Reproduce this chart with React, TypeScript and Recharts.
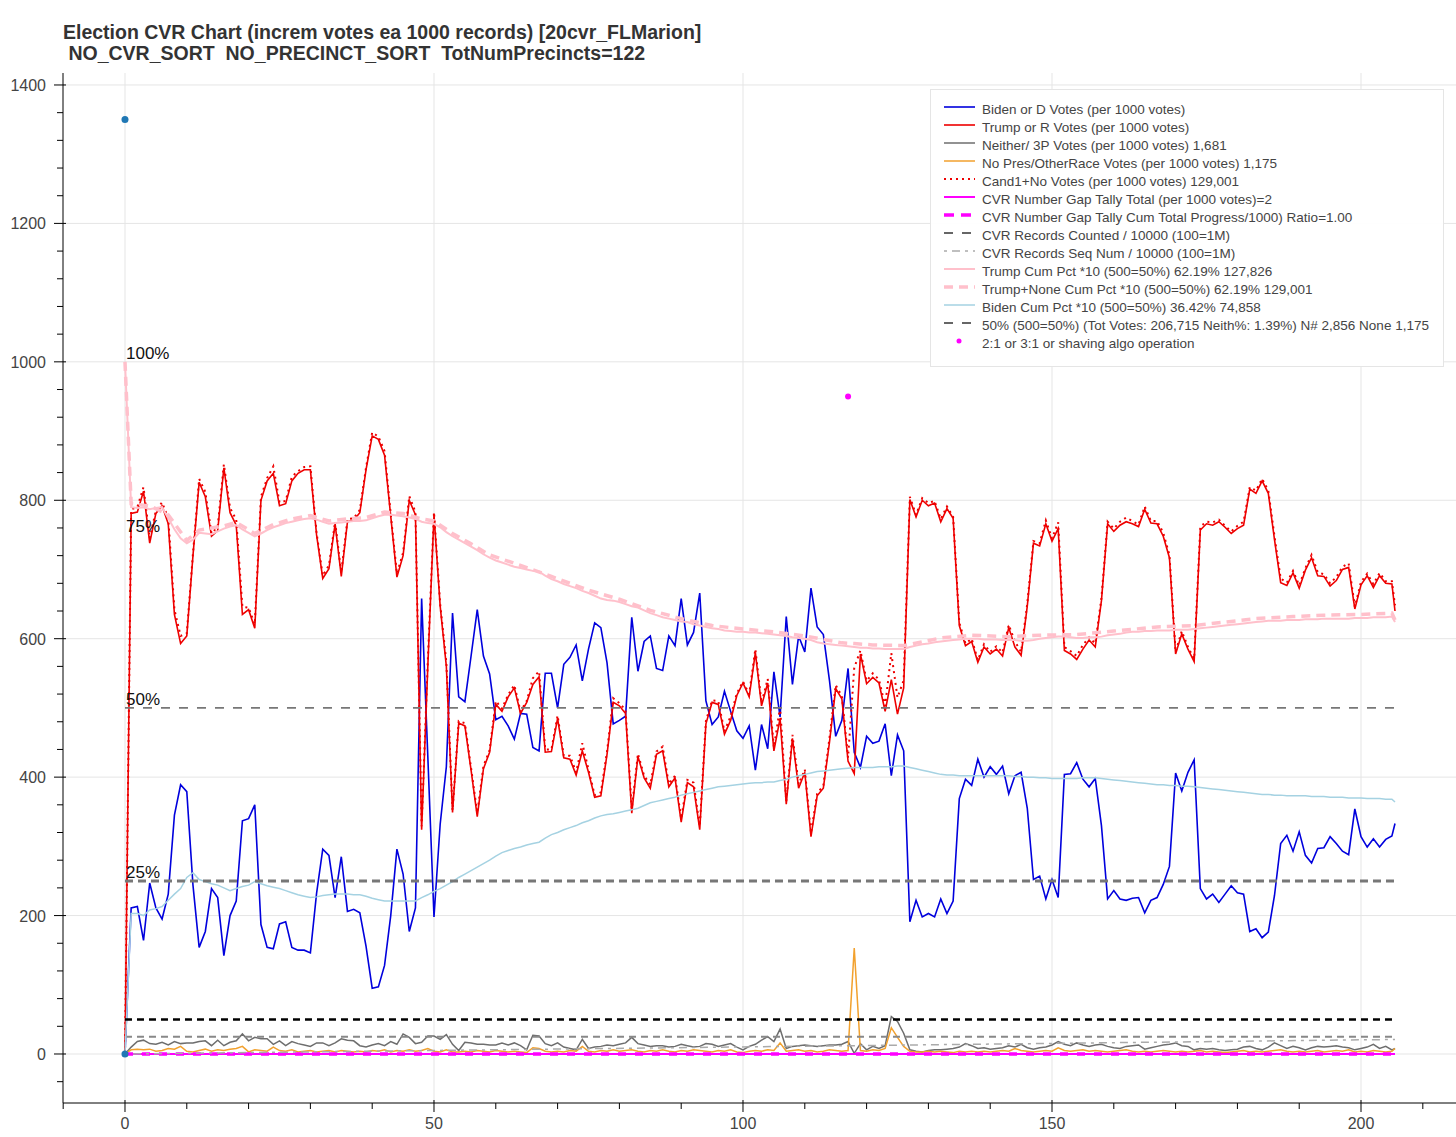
import { ComposedChart, Line, Scatter, XAxis, YAxis, CartesianGrid } from 'recharts';

// per-block values (one block = 1000 records)
const BIDEN = [
  0, 211, 213, 164, 247, 211, 195, 231, 345, 389, 379,
  244, 154, 177, 239, 226, 142, 200, 221, 337, 340,
  360, 187, 154, 152, 188, 191, 154, 150, 150, 146,
  232, 296, 287, 226, 285, 206, 209, 204, 156, 95,
  97, 128, 200, 296, 260, 177, 211, 658, 430, 198,
  332, 415, 637, 516, 509, 575, 642, 575, 549, 483,
  488, 474, 455, 492, 491, 443, 438, 550, 550, 500,
  563, 573, 591, 539, 585, 623, 616, 565, 477, 482,
  488, 631, 553, 596, 604, 557, 554, 604, 590, 658,
  591, 609, 666, 510, 476, 487, 524, 495, 467, 456,
  474, 410, 476, 441, 552, 487, 632, 534, 604, 581,
  673, 617, 606, 539, 459, 482, 557, 436, 414, 459,
  449, 452, 477, 402, 461, 438, 191, 222, 198, 203,
  198, 224, 203, 221, 369, 397, 388, 426, 400, 415,
  404, 416, 376, 402, 407, 355, 252, 257, 224, 252,
  226, 404, 405, 421, 397, 386, 398, 330, 224, 236,
  224, 222, 225, 226, 204, 222, 226, 245, 271, 406,
  380, 407, 425, 239, 224, 231, 219, 231, 243, 233,
  231, 177, 181, 168, 176, 229, 304, 316, 293, 321,
  287, 276, 297, 298, 314, 304, 293, 288, 354, 314,
  299, 311, 299, 310, 315, 333,
];

const TRUMP = [
  0, 781, 783, 813, 738, 781, 792, 766, 635, 593, 604,
  720, 826, 805, 748, 756, 847, 782, 764, 635, 642,
  615, 800, 828, 839, 792, 795, 828, 839, 844, 844,
  750, 687, 701, 766, 690, 769, 771, 782, 844, 893,
  888, 865, 777, 689, 720, 800, 779, 324, 560, 779,
  647, 560, 349, 478, 474, 410, 343, 412, 436, 505,
  495, 516, 529, 492, 508, 534, 545, 436, 437, 485,
  428, 426, 403, 438, 407, 371, 373, 433, 508, 503,
  492, 348, 430, 399, 384, 433, 438, 386, 399, 335,
  392, 386, 324, 477, 508, 505, 462, 482, 518, 536,
  516, 580, 503, 536, 438, 485, 361, 456, 384, 407,
  314, 373, 384, 451, 528, 513, 423, 405, 578, 535,
  544, 536, 495, 541, 491, 529, 801, 776, 800, 792,
  796, 769, 788, 774, 619, 590, 596, 566, 588, 578,
  585, 575, 616, 588, 576, 647, 738, 734, 766, 741,
  759, 583, 578, 570, 585, 598, 588, 655, 766, 755,
  764, 769, 766, 762, 787, 767, 766, 748, 717, 578,
  607, 585, 567, 757, 766, 764, 769, 761, 752, 759,
  764, 816, 810, 828, 810, 743, 681, 677, 695, 673,
  699, 717, 691, 690, 676, 684, 700, 703, 643, 678,
  691, 674, 691, 680, 679, 640,
];

const NEITHER = [
  0, 10, 18, 20, 15, 14, 17, 13, 18, 15, 16,
  16, 18, 19, 12, 20, 12, 17, 19, 29, 19,
  24, 22, 22, 14, 19, 12, 18, 15, 13, 11,
  16, 16, 12, 16, 22, 20, 19, 12, 10, 13,
  15, 12, 18, 14, 29, 24, 15, 17, 26, 26,
  21, 28, 14, 5, 17, 16, 14, 14, 13, 13,
  16, 13, 16, 12, 6, 27, 26, 15, 12, 16,
  10, 8, 6, 21, 8, 10, 11, 13, 12, 14,
  16, 24, 15, 13, 11, 12, 12, 10, 11, 14,
  12, 10, 11, 15, 14, 11, 13, 15, 10, 6,
  11, 14, 20, 25, 18, 36, 8, 11, 12, 13,
  12, 11, 12, 13, 13, 14, 18, 1, 15, 6,
  11, 8, 12, 54, 47, 30, 6, 4, 3, 5,
  6, 6, 7, 8, 10, 15, 12, 8, 9, 7,
  8, 9, 12, 10, 14, 9, 7, 9, 10, 13,
  18, 14, 12, 16, 13, 11, 13, 14, 11, 9,
  8, 11, 12, 13, 7, 9, 11, 13, 14, 16,
  12, 11, 6, 8, 7, 8, 6, 5, 6, 7,
  10, 11, 8, 6, 10, 16, 12, 8, 11, 9,
  6, 9, 11, 10, 11, 12, 10, 9, 6, 8,
  10, 14, 8, 11, 6, 8,
];

const NO_PRES = [
  0, 6, 7, 6, 7, 4, 5, 8, 7, 11, 4,
  3, 5, 7, 4, 6, 5, 7, 8, 11, 3,
  6, 5, 4, 10, 5, 4, 6, 3, 4, 5,
  3, 4, 5, 3, 5, 4, 3, 4, 3, 5,
  4, 6, 3, 5, 4, 6, 4, 5, 8, 4,
  3, 6, 3, 3, 4, 3, 5, 4, 3, 5,
  4, 3, 4, 3, 2, 9, 8, 4, 3, 4,
  3, 5, 4, 11, 4, 3, 5, 4, 6, 4,
  5, 6, 4, 3, 5, 4, 6, 4, 3, 5,
  4, 6, 5, 4, 3, 5, 4, 6, 3, 2,
  4, 5, 4, 6, 5, 16, 4, 5, 6, 4,
  5, 3, 4, 6, 5, 4, 5, 153, 5, 4,
  6, 5, 8, 38, 24, 11, 4, 3, 3, 4,
  3, 4, 3, 2, 4, 3, 4, 3, 4, 3,
  4, 5, 4, 8, 5, 4, 3, 4, 5, 4,
  9, 5, 4, 5, 6, 4, 5, 4, 3, 4,
  5, 6, 4, 3, 4, 3, 4, 5, 4, 3,
  4, 3, 4, 5, 3, 4, 3, 2, 3, 4,
  5, 3, 4, 3, 4, 5, 6, 4, 3, 4,
  3, 4, 5, 3, 4, 5, 4, 6, 3, 4,
  3, 5, 4, 3, 4, 8,
];

// cumulative shares *10 (500 = 50%)
const TRUMP_CUM = [
  1000, 790, 789, 790, 787, 789, 790, 774, 758, 745, 738,
  743, 753, 752, 751, 755, 759, 762, 764, 758, 753,
  748, 752, 757, 761, 764, 767, 769, 771, 773, 774,
  772, 769, 766, 767, 768, 769, 770, 770, 771, 774,
  777, 779, 779, 778, 777, 775, 773, 769, 767, 766,
  761, 754, 748, 743, 738, 733, 728, 722, 717, 713,
  710, 707, 704, 702, 700, 698, 697, 691, 686, 683,
  679, 676, 673, 669, 666, 662, 658, 656, 655, 653,
  650, 647, 645, 641, 637, 634, 631, 629, 627, 625,
  624, 621, 619, 617, 615, 614, 612, 611, 610, 610,
  609, 609, 608, 607, 606, 605, 604, 602, 601, 600,
  598, 595, 593, 592, 591, 590, 589, 588, 587, 587,
  586, 586, 585, 585, 585, 585, 588, 590, 592, 593,
  595, 596, 597, 598, 599, 600, 600, 600, 599, 599,
  599, 598, 598, 598, 597, 597, 598, 600, 601, 602,
  603, 603, 602, 601, 601, 602, 602, 603, 605, 606,
  607, 609, 610, 610, 611, 611, 612, 612, 612, 613,
  613, 613, 614, 615, 616, 617, 618, 619, 620, 621,
  622, 623, 624, 625, 626, 626, 626, 627, 627, 627,
  628, 628, 628, 629, 629, 629, 629, 629, 630, 630,
  630, 631, 631, 631, 632, 624,
];

const BIDEN_CUM = [
  0, 203, 203, 200, 208, 210, 213, 222, 231, 239, 255,
  262, 252, 249, 246, 244, 240, 236, 239, 242, 244,
  249, 246, 243, 241, 239, 236, 233, 230, 228, 226,
  227, 229, 230, 231, 231, 231, 230, 230, 228, 225,
  223, 221, 221, 221, 221, 221, 221, 226, 230, 235,
  239, 244, 249, 255, 260, 265, 270, 275, 280, 286,
  291, 294, 297, 299, 302, 304, 306, 312, 317, 320,
  324, 327, 330, 334, 337, 341, 344, 346, 347, 349,
  351, 353, 355, 359, 363, 365, 367, 369, 371, 374,
  376, 378, 380, 382, 384, 386, 387, 388, 389, 390,
  391, 392, 392, 393, 393, 395, 397, 400, 402, 404,
  406, 408, 409, 410, 411, 412, 413, 414, 414, 414,
  414, 415, 415, 415, 416, 416, 414, 412, 410, 408,
  406, 404, 403, 403, 402, 402, 402, 402, 402, 402,
  402, 402, 402, 401, 401, 400, 400, 399, 399, 398,
  398, 398, 398, 398, 399, 399, 399, 398, 397, 396,
  395, 394, 393, 392, 391, 390, 389, 389, 388, 388,
  387, 387, 386, 385, 384, 383, 382, 381, 380, 379,
  378, 377, 376, 375, 375, 374, 374, 373, 373, 373,
  373, 372, 372, 372, 371, 371, 371, 370, 370, 370,
  369, 369, 369, 368, 368, 364,
];

// Trump+None cumulative, read at a coarser set of blocks
const TRUMP_NONE_CUM_X = [
  0, 1, 4, 7, 10, 12, 16, 18, 21, 24, 27, 30, 33, 36, 39, 42, 45, 48, 50, 53, 56, 59, 64, 69, 75,
  80, 85, 90, 95, 100, 105, 110, 116, 118, 121, 126, 132, 137, 143, 148, 154, 160, 167, 173, 178,
  183, 189, 194, 200, 205, 205.5,
];
const TRUMP_NONE_CUM = [
  1000, 795, 792, 779, 742, 757, 763, 768, 752, 765, 773, 778, 770, 773, 775, 783, 781, 773, 770,
  752, 737, 721, 706, 690, 670, 657, 641, 629, 619, 614, 610, 604, 594, 593, 591, 590, 601, 605,
  603, 605, 606, 611, 617, 619, 624, 629, 632, 634, 635, 637, 627,
];

const LAST_BLOCK_X = 205.5;
const FIFTY_PCT_LEVEL = 500;
const QUARTER_LEVEL = 250;
const BLACK_LEVEL = 50;
const RECORDS_COUNTED = 25;
const SEQ_NUM_X = [0, 205.5];
const SEQ_NUM = [0, 21];
const GAP_TALLY = [0, 0];

const START_DOTS = [
  { x: 0, y: 1350 },
  { x: 0, y: 0 },
];
const SHAVE_DOTS = [{ x: 117, y: 950 }];
const PCT_LABELS = [
  { x: 0, y: 1000, text: '100%' },
  { x: 0, y: 750, text: '75%' },
  { x: 0, y: 500, text: '50%' },
  { x: 0, y: 250, text: '25%' },
];

const TITLE_1 = 'Election CVR Chart (increm votes ea 1000 records) [20cvr_FLMarion]';
const TITLE_2 = ' NO_CVR_SORT  NO_PRECINCT_SORT  TotNumPrecincts=122';

const X_TICKS = [-10, 0, 10, 20, 30, 40, 50, 60, 70, 80, 90, 100, 110, 120, 130, 140, 150, 160, 170, 180, 190, 200, 210];
const Y_TICKS = [
  -40, 0, 40, 80, 120, 160, 200, 240, 280, 320, 360, 400, 440, 480, 520, 560, 600, 640, 680, 720,
  760, 800, 840, 880, 920, 960, 1000, 1040, 1080, 1120, 1160, 1200, 1240, 1280, 1320, 1360, 1400,
];
const X_GRID = [0, 50, 100, 150, 200];
const Y_GRID = [0, 200, 400, 600, 800, 1000, 1200, 1400];

const FONT = '"Liberation Sans", Arial, Helvetica, sans-serif';
const BLUE = '#0000dd';
const RED = '#ee0000';
const GREY = '#6e6e6e';
const ORANGE = '#f2a12e';
const MAGENTA = '#ff00ff';
const PINK = '#ffc0cb';
const LIGHT_BLUE = '#a5d2e2';

const BLOCK_X = BIDEN.map((_, i) => (i === BIDEN.length - 1 ? LAST_BLOCK_X : i));
const rows = BLOCK_X.map((x, i) => ({
  x,
  biden: BIDEN[i],
  trump: TRUMP[i],
  neither: NEITHER[i],
  noPres: NO_PRES[i],
  cand1No: TRUMP[i] + NO_PRES[i],
  trumpCum: TRUMP_CUM[i],
  bidenCum: BIDEN_CUM[i],
}));
const trumpNoneRows = TRUMP_NONE_CUM_X.map((x, i) => ({ x, v: TRUMP_NONE_CUM[i] }));
const seqRows = SEQ_NUM_X.map((x, i) => ({ x, v: SEQ_NUM[i] }));
const gapRows = SEQ_NUM_X.map((x, i) => ({ x, v: GAP_TALLY[i] }));
const level = (v: number) => [
  { x: 0, v },
  { x: LAST_BLOCK_X, v },
];
// keep runs of spaces in svg text
const keepSpaces = (s: string) => s.replace(/ /g, '\u00a0');

function XTick({ x, y, payload }: any) {
  const v = payload.value;
  const major = v % 50 === 0;
  return (
    <g>
      <line x1={x} x2={x} y1={y - (major ? 3 : 0)} y2={y + (major ? 9 : 6)} stroke="#000" />
      {major && (
        <text x={x} y={y + 26} textAnchor="middle" fontSize={16} fill="#444" fontFamily={FONT}>
          {v}
        </text>
      )}
    </g>
  );
}

function YTick({ x, y, payload }: any) {
  const v = payload.value;
  const major = v % 200 === 0;
  return (
    <g>
      <line x1={x + (major ? 3 : 0)} x2={x - (major ? 9 : 6)} y1={y} y2={y} stroke="#000" />
      {major && (
        <text x={x - 17} y={y + 6} textAnchor="end" fontSize={16} fill="#444" fontFamily={FONT}>
          {v}
        </text>
      )}
    </g>
  );
}

const LEGEND = [
  { label: 'Biden or D Votes (per 1000 votes)', stroke: BLUE, width: 1.6 },
  { label: 'Trump or R Votes (per 1000 votes)', stroke: RED, width: 1.6 },
  { label: 'Neither/ 3P Votes (per 1000 votes) 1,681', stroke: GREY, width: 1.5 },
  { label: 'No Pres/OtherRace Votes (per 1000 votes) 1,175', stroke: ORANGE, width: 1.5 },
  { label: 'Cand1+No Votes (per 1000 votes) 129,001', stroke: RED, width: 2, dash: '2 4' },
  { label: 'CVR Number Gap Tally Total (per 1000 votes)=2', stroke: MAGENTA, width: 2 },
  { label: 'CVR Number Gap Tally Cum Total Progress/1000) Ratio=1.00', stroke: MAGENTA, width: 3.5, dash: '10 7' },
  { label: 'CVR Records Counted / 10000 (100=1M)', stroke: '#666', width: 1.8, dash: '9 9' },
  { label: 'CVR Records Seq Num / 10000 (100=1M)', stroke: '#aaa', width: 1.5, dash: '3 5 8 5' },
  { label: 'Trump Cum Pct *10 (500=50%) 62.19% 127,826', stroke: PINK, width: 2 },
  { label: 'Trump+None Cum Pct *10 (500=50%) 62.19% 129,001', stroke: PINK, width: 3.5, dash: '9 6' },
  { label: 'Biden Cum Pct *10 (500=50%) 36.42% 74,858', stroke: LIGHT_BLUE, width: 1.5 },
  { label: '50% (500=50%) (Tot Votes: 206,715 Neith%: 1.39%) N# 2,856 None 1,175', stroke: '#666', width: 1.8, dash: '9 9' },
  { label: '2:1 or 3:1 or shaving algo operation', dot: MAGENTA },
];

function Overlay() {
  return (
    <svg width={1456} height={1137} style={{ position: 'absolute', left: 0, top: 0, pointerEvents: 'none' }}>
      <g fontFamily={FONT} fontWeight="bold" fontSize={19.5} fill="#333">
        <text x={63} y={39}>{keepSpaces(TITLE_1)}</text>
        <text x={63} y={60}>{keepSpaces(TITLE_2)}</text>
      </g>
      <rect x={930.5} y={89.5} width={513} height={277} fill="#fff" fillOpacity={0.96} stroke="#e5e5e5" />
      {LEGEND.map((item, i) => {
        const cy = 109 + i * 18;
        return (
          <g key={item.label}>
            {item.dot ? (
              <circle cx={959} cy={cy - 2} r={2.5} fill={item.dot} />
            ) : (
              <line x1={944} x2={975} y1={cy - 2} y2={cy - 2} stroke={item.stroke} strokeWidth={item.width} strokeDasharray={item.dash} />
            )}
            <text x={982} y={cy + 4.5} fontFamily={FONT} fontSize={13.5} fill="#444">
              {keepSpaces(item.label)}
            </text>
          </g>
        );
      })}
    </svg>
  );
}

export default function App() {
  return (
    <div style={{ position: 'relative', width: 1456, height: 1137, background: '#fff', overflow: 'hidden' }}>
      <style>{'body{margin:0}'}</style>
      <ComposedChart width={1456} height={1137} data={rows} margin={{ top: 73, right: 0, bottom: 4, left: 3 }}>
        <CartesianGrid stroke="#e5e5e5" horizontalValues={Y_GRID} verticalValues={X_GRID} />
        <XAxis
          dataKey="x"
          type="number"
          domain={[-10.03, 215.37]}
          allowDataOverflow
          ticks={X_TICKS}
          interval={0}
          tick={<XTick />}
          tickLine={false}
          tickSize={0}
          tickMargin={0}
          height={30}
          axisLine={{ stroke: '#000' }}
        />
        <YAxis
          type="number"
          domain={[-70.8, 1417.3]}
          allowDataOverflow
          ticks={Y_TICKS}
          interval={0}
          tick={<YTick />}
          tickLine={false}
          tickSize={0}
          tickMargin={0}
          width={60}
          axisLine={{ stroke: '#000' }}
        />
        <Line dataKey="biden" stroke={BLUE} strokeWidth={1.6} dot={false} isAnimationActive={false} />
        <Line dataKey="trump" stroke={RED} strokeWidth={1.6} dot={false} isAnimationActive={false} />
        <Line dataKey="neither" stroke={GREY} strokeWidth={1.5} dot={false} isAnimationActive={false} />
        <Line dataKey="noPres" stroke={ORANGE} strokeWidth={1.5} dot={false} isAnimationActive={false} />
        <Line dataKey="cand1No" stroke={RED} strokeWidth={2} strokeDasharray="2 4" dot={false} isAnimationActive={false} />
        <Line data={gapRows} dataKey="v" stroke={MAGENTA} strokeWidth={2} dot={false} isAnimationActive={false} />
        <Line data={gapRows} dataKey="v" stroke={MAGENTA} strokeWidth={3.5} strokeDasharray="8 9" dot={false} isAnimationActive={false} />
        <Line data={level(RECORDS_COUNTED)} dataKey="v" stroke="#888" strokeWidth={2} strokeDasharray="7 5" dot={false} isAnimationActive={false} />
        <Line data={seqRows} dataKey="v" stroke="#aaa" strokeWidth={1.5} strokeDasharray="3 5 8 5" dot={false} isAnimationActive={false} />
        <Line dataKey="trumpCum" stroke={PINK} strokeWidth={2} dot={false} isAnimationActive={false} />
        <Line data={trumpNoneRows} dataKey="v" stroke={PINK} strokeWidth={3.5} strokeDasharray="9 6" dot={false} isAnimationActive={false} />
        <Line dataKey="bidenCum" stroke={LIGHT_BLUE} strokeWidth={1.5} dot={false} isAnimationActive={false} />
        <Line data={level(FIFTY_PCT_LEVEL)} dataKey="v" stroke="#777" strokeWidth={1.6} strokeDasharray="9 9" dot={false} isAnimationActive={false} />
        <Line data={level(QUARTER_LEVEL)} dataKey="v" stroke="#777" strokeWidth={3} strokeDasharray="8 5" dot={false} isAnimationActive={false} />
        <Line data={level(BLACK_LEVEL)} dataKey="v" stroke="#000" strokeWidth={2.5} strokeDasharray="7 5" dot={false} isAnimationActive={false} />
        <Scatter
          data={START_DOTS}
          dataKey="y"
          isAnimationActive={false}
          shape={(p: any) => <circle cx={p.cx} cy={p.cy} r={3.5} fill="#1f77b4" />}
        />
        <Scatter
          data={SHAVE_DOTS}
          dataKey="y"
          isAnimationActive={false}
          shape={(p: any) => <circle cx={p.cx} cy={p.cy} r={3} fill={MAGENTA} />}
        />
        <Scatter
          data={PCT_LABELS}
          dataKey="y"
          isAnimationActive={false}
          shape={(p: any) => (
            <text x={p.cx + 1} y={p.cy - 3} fontSize={17} fill="#111" fontFamily={FONT}>
              {p.payload.text}
            </text>
          )}
        />
      </ComposedChart>
      <Overlay />
    </div>
  );
}
